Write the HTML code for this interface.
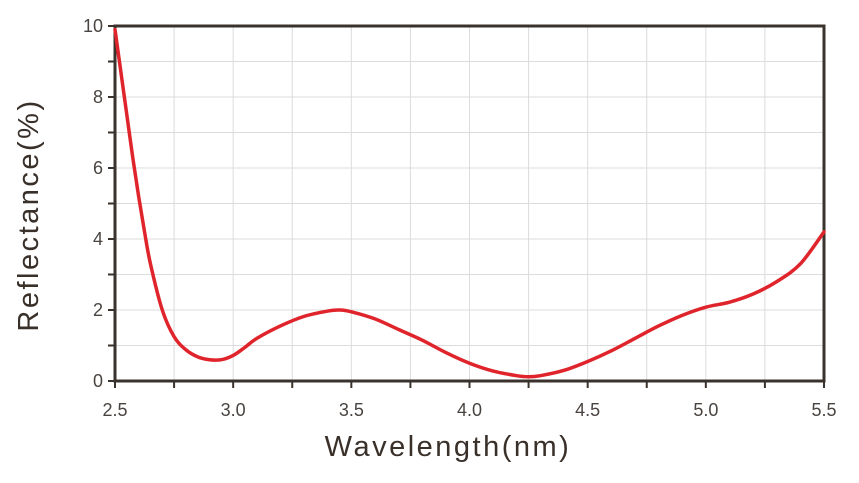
<!DOCTYPE html>
<html><head><meta charset="utf-8"><style>
body{margin:0;background:#fff;width:859px;height:478px;overflow:hidden;font-family:"Liberation Sans",sans-serif}
</style></head><body>
<svg id="chart" width="859" height="478"></svg>
<script>
const xTicks=[2.5,3.0,3.5,4.0,4.5,5.0,5.5];
const xTickLabels=["2.5","3.0","3.5","4.0","4.5","5.0","5.5"];
const yTicks=[0,2,4,6,8,10];
const yTickLabels=["0","2","4","6","8","10"];
const wavelengths=[2.5,2.525,2.55,2.575,2.6,2.625,2.65,2.7,2.75,2.8,2.85,2.9,2.95,3.0,3.05,3.1,3.2,3.3,3.4,3.45,3.5,3.6,3.7,3.8,3.9,4.0,4.1,4.2,4.25,4.3,4.4,4.5,4.6,4.7,4.8,4.9,5.0,5.1,5.2,5.3,5.4,5.5];
const reflectance=[9.9,8.7,7.5,6.3,5.2,4.2,3.3,2.0,1.25,0.88,0.68,0.6,0.6,0.72,0.95,1.2,1.55,1.82,1.97,2.0,1.95,1.75,1.45,1.15,0.8,0.5,0.28,0.15,0.12,0.15,0.3,0.55,0.85,1.2,1.55,1.85,2.08,2.22,2.45,2.8,3.3,4.2];

const NS="http://www.w3.org/2000/svg";
const svg=document.getElementById('chart');
const L=115,R=824,T=26,B=381;
const xs=v=>L+(v-2.5)/3*(R-L);
const ys=v=>B-v/10*(B-T);
function mk(t,a,p){const e=document.createElementNS(NS,t);for(const k in a)e.setAttribute(k,a[k]);(p||svg).appendChild(e);return e;}

for(let v=2.5;v<=5.5001;v+=0.25){const g=mk('line',{x1:xs(v),x2:xs(v),y1:T,y2:B,stroke:'#dcdcdc','stroke-width':1});

}
for(let v=1;v<10;v++){const g=mk('line',{x1:L,x2:R,y1:ys(v),y2:ys(v),stroke:'#dcdcdc','stroke-width':1});

}

const fr=mk('rect',{x:L,y:T,width:R-L,height:B-T,fill:'none',stroke:'#3a322c','stroke-width':3});



for(let v=2.5;v<=5.5001;v+=0.25){const t=mk('line',{x1:xs(v),x2:xs(v),y1:B,y2:B+7,stroke:'#3a322c','stroke-width':2});

}
xTicks.forEach((v,i)=>{const t=mk('text',{x:xs(v),y:B+35,'text-anchor':'middle','font-size':18,fill:'#4a4440'});t.textContent=xTickLabels[i];

});
for(let v=0;v<=10;v++){const t=mk('line',{x1:L-7,x2:L,y1:ys(v),y2:ys(v),stroke:'#3a322c','stroke-width':2});

}
yTicks.forEach((v,i)=>{const t=mk('text',{x:L-12,y:ys(v)+6,'text-anchor':'end','font-size':18,fill:'#4a4440'});t.textContent=yTickLabels[i];

});

const xt=mk('text',{x:448,y:456,'text-anchor':'middle','font-size':29,fill:'#3a302a','letter-spacing':2.5});xt.textContent='Wavelength(nm)';


const yt=mk('text',{x:0,y:0,'text-anchor':'middle','font-size':29,fill:'#3a302a','letter-spacing':2.5,transform:'translate(38,215) rotate(-90)'});yt.textContent='Reflectance(%)';



const pts=wavelengths.map((w,i)=>[xs(w),ys(reflectance[i])]);
let d=`M${pts[0][0]},${pts[0][1]}`;
for(let i=0;i<pts.length-1;i++){const p0=pts[Math.max(0,i-1)],p1=pts[i],p2=pts[i+1],p3=pts[Math.min(pts.length-1,i+2)];
d+=` C${p1[0]+(p2[0]-p0[0])/6},${p1[1]+(p2[1]-p0[1])/6} ${p2[0]-(p3[0]-p1[0])/6},${p2[1]-(p3[1]-p1[1])/6} ${p2[0]},${p2[1]}`;}
const c=mk('path',{d:d,fill:'none',stroke:'#e0242b','stroke-width':3.5,'stroke-linejoin':'round','stroke-linecap':'round'});


</script>
</body></html>
